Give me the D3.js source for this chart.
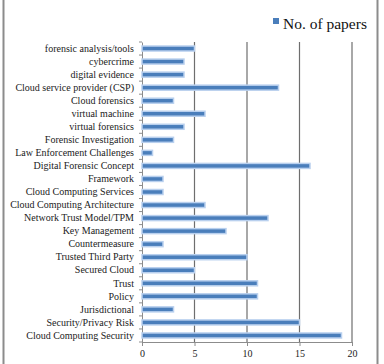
<!DOCTYPE html>
<html>
<head>
<meta charset="utf-8">
<script src="https://d3js.org/d3.v7.min.js"></script>
<style>
  body { margin: 0; background: #fff; }
  svg text { font-family: "Liberation Serif", "Times New Roman", serif; }
</style>
</head>
<body>
<div id="chart"></div>
<script>
// Catégories (de haut en bas) et nombre d'articles
const categories = [
  "forensic analysis/tools", "cybercrime", "digital evidence",
  "Cloud service provider (CSP)", "Cloud forensics", "virtual machine",
  "virtual forensics", "Forensic Investigation", "Law Enforcement Challenges",
  "Digital Forensic Concept", "Framework", "Cloud Computing Services",
  "Cloud Computing Architecture", "Network Trust Model/TPM", "Key Management",
  "Countermeasure", "Trusted Third Party", "Secured Cloud", "Trust", "Policy",
  "Jurisdictional", "Security/Privacy Risk", "Cloud Computing Security"
];
const papers = [5, 4, 4, 13, 3, 6, 4, 3, 1, 16, 2, 2, 6, 12, 8, 2, 10, 5, 11, 11, 3, 15, 19];
const xTicks = [0, 5, 10, 15, 20];
const seriesName = "No. of papers";

const data = categories.map((c, i) => ({ name: c, value: papers[i] }));

const W = 384, H = 364;
const margin = { top: 42, right: 32, bottom: 22, left: 142 };
const width = W - margin.left - margin.right;
const height = H - margin.top - margin.bottom;

const svg = d3.select("#chart").append("svg")
    .attr("width", W)
    .attr("height", H);

// Cadre (bords gauche et droite)
svg.append("line").attr("x1", 3.5).attr("x2", 3.5).attr("y1", 0).attr("y2", H)
    .attr("stroke", "#8c8c8c").attr("stroke-width", 2);
svg.append("line").attr("x1", 377.5).attr("x2", 377.5).attr("y1", 0).attr("y2", H)
    .attr("stroke", "#8c8c8c").attr("stroke-width", 2);

const g = svg.append("g")
    .attr("transform", "translate(" + margin.left + "," + margin.top + ")");

// Échelles
const x = d3.scaleLinear().domain([0, 20]).range([0, width]);
const y = d3.scaleBand().domain(categories).range([0, height]);

// Grille verticale
g.selectAll(".grid")
    .data(xTicks.filter(t => t > 0))
  .enter().append("line")
    .attr("x1", d => x(d)).attr("x2", d => x(d))
    .attr("y1", 0).attr("y2", height)
    .attr("stroke", "#6e6e6e").attr("stroke-width", 1.2);

// Axe X
const xAxis = g.append("g")
    .attr("transform", "translate(0," + height + ")")
    .call(d3.axisBottom(x).tickValues(xTicks).tickSize(4).tickPadding(4));
xAxis.attr("font-family", null);
xAxis.select(".domain").attr("stroke", "#8c8c8c");
xAxis.selectAll(".tick line").attr("stroke", "#8c8c8c");
xAxis.selectAll("text")
    .style("font-size", "10px")
    .attr("fill", "#222");

// Axe Y
const yAxis = g.append("g")
    .call(d3.axisLeft(y).tickSize(0).tickPadding(8));
yAxis.attr("font-family", null);
yAxis.select(".domain").attr("stroke", "#8c8c8c");
yAxis.selectAll("text")
    .style("font-size", "10px")
    .attr("fill", "#222");

// Petites graduations entre catégories
g.selectAll(".ytick")
    .data(d3.range(categories.length + 1))
  .enter().append("line")
    .attr("x1", -3).attr("x2", 0)
    .attr("y1", d => d * y.step()).attr("y2", d => d * y.step())
    .attr("stroke", "#8c8c8c");

// Barres
const barH = 5;
g.selectAll(".bar")
    .data(data)
  .enter().append("rect")
    .attr("x", 0)
    .attr("y", d => y(d.name) + y.bandwidth() / 2 - barH / 2)
    .attr("width", d => x(d.value))
    .attr("height", barH)
    .attr("fill", "#4a7ebb")
    .attr("stroke", "#b9d0ee")
    .attr("stroke-width", 1.5);

// Légende
svg.append("rect")
    .attr("x", 273).attr("y", 18)
    .attr("width", 6).attr("height", 6)
    .attr("fill", "#4a7ebb");
svg.append("text")
    .attr("x", 283).attr("y", 29)
    .style("font-size", "15.5px")
    .attr("fill", "#111")
    .text(seriesName);
</script>
</body>
</html>
